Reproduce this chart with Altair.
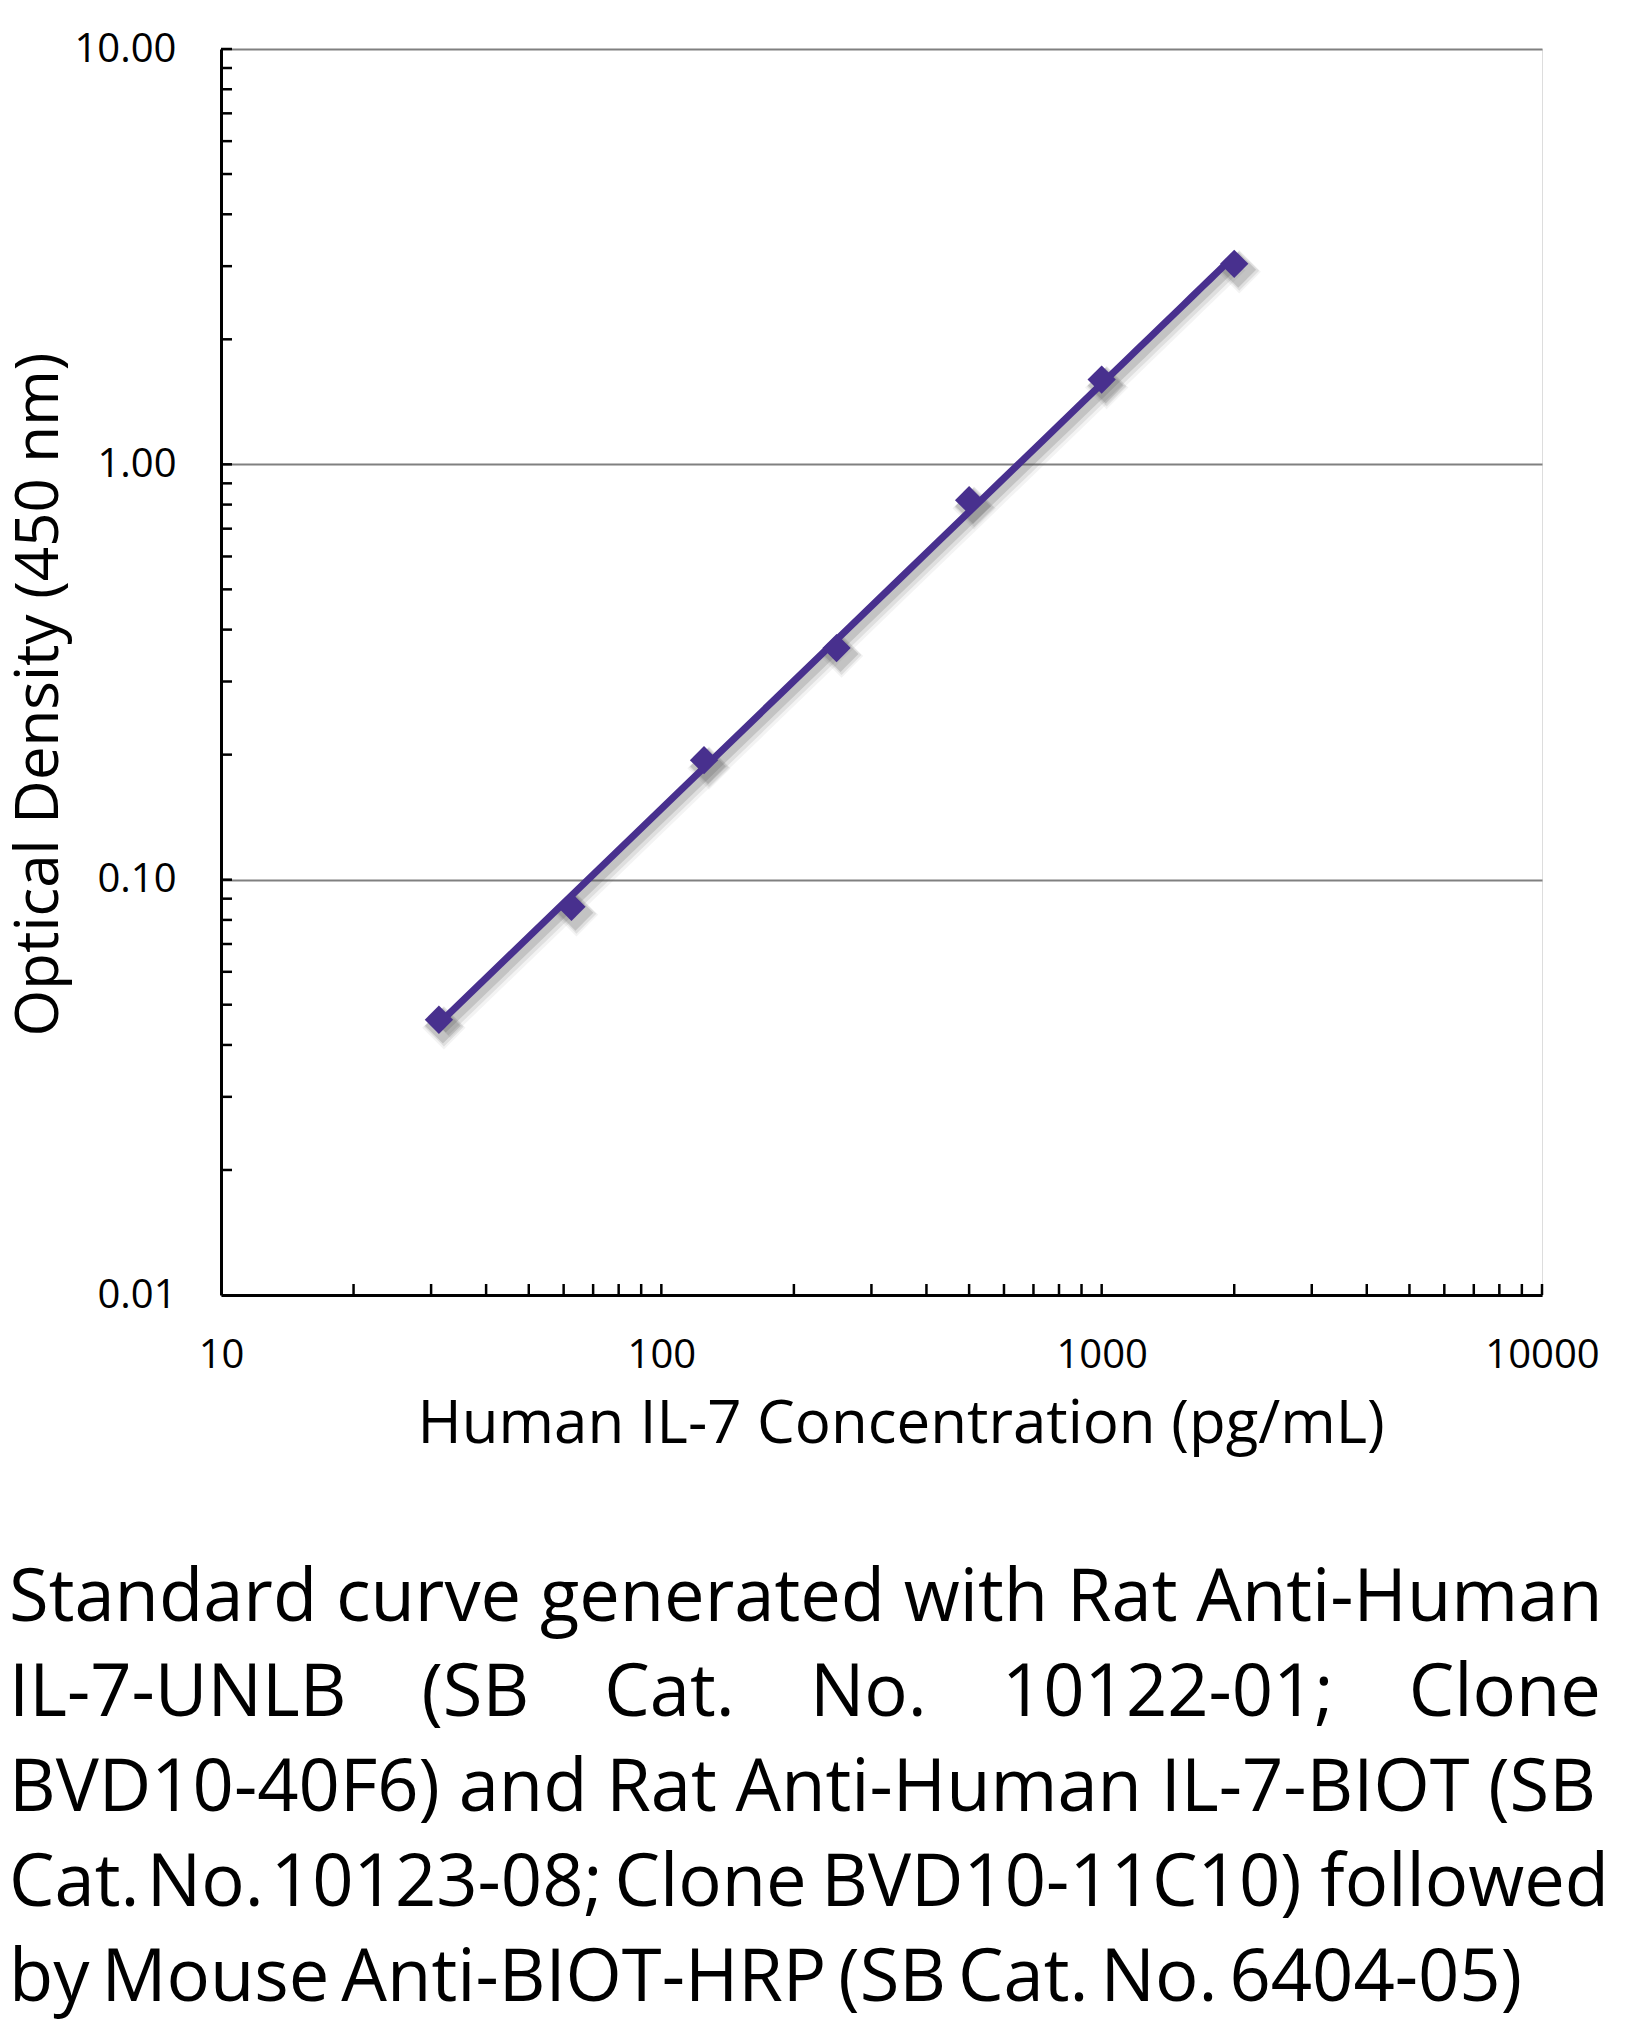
import altair as alt
import pandas as pd

# ---- data ----
concentration = [31.25, 62.5, 125, 250, 500, 1000, 2000]
optical_density = [0.046, 0.086, 0.194, 0.361, 0.82, 1.60, 3.04]

x_label_values = [10, 100, 1000, 10000]
y_label_values = [0.01, 0.1, 1, 10]
x_minor_ticks = [20, 30, 40, 50, 60, 70, 80, 90, 100,
                 200, 300, 400, 500, 600, 700, 800, 900, 1000,
                 2000, 3000, 4000, 5000, 6000, 7000, 8000, 9000, 10000]
y_minor_ticks = [0.02, 0.03, 0.04, 0.05, 0.06, 0.07, 0.08, 0.09, 0.1,
                 0.2, 0.3, 0.4, 0.5, 0.6, 0.7, 0.8, 0.9, 1,
                 2, 3, 4, 5, 6, 7, 8, 9, 10]

NB = "\u00a0"
TH = "\u2009"   # thin space
HR = "\u200a"   # hair space
caption_lines = [
    "Standard curve generated with Rat Anti-Human",
    ("IL-7-UNLB" + NB * 4 + "(SB" + NB * 4 + "Cat." + NB * 4 + "No." + NB * 4
     + "10122-01;" + NB * 4 + "Clone"),
    "BVD10-40F6) and Rat Anti-Human IL-7-BIOT (SB",
    "Cat." + HR + "No." + HR + "10123-08;" + TH + "Clone" + HR + HR + "BVD10-11C10) followed",
    "by" + TH + "Mouse" + TH + "Anti-BIOT-HRP" + TH + "(SB" + TH + "Cat." + TH + "No." + TH + "6404-05)",
]

W, H = 1321, 1246
FONT = "Open Sans"
PURPLE = "#48308e"

df = pd.DataFrame({"conc": concentration, "od": optical_density})
xt = pd.DataFrame({"conc": x_minor_ticks})
yt = pd.DataFrame({"od": y_minor_ticks})

xscale = alt.Scale(type="log", domain=[10, 10000], nice=False)
yscale = alt.Scale(type="log", domain=[0.01, 10], nice=False)

x_axis = alt.Axis(
    values=x_label_values, format="d", grid=False, ticks=False, tickSize=0,
    domainColor="black", domainWidth=3, labelFont=FONT, labelFontSize=40,
    labelColor="black", labelPadding=40, labelFlush=False,
    title="Human IL-7 Concentration (pg/mL)", titleFont=FONT, titleFontSize=60,
    titleFontWeight="normal", titleColor="black", titleAlign="left",
    titleBaseline="alphabetic", titleX=196, titleY=147,
)
y_axis = alt.Axis(
    values=y_label_values, format=".2f", grid=True, gridColor="#808080",
    gridWidth=2, ticks=False, tickSize=0, domainColor="black", domainWidth=3,
    labelFont=FONT, labelFontSize=40, labelColor="black", labelPadding=45,
    labelFlush=False, labelBaseline="middle",
    title="Optical Density (450 nm)", titleFont=FONT, titleFontSize=60,
    titleFontWeight="normal", titleColor="black", titleAlign="center",
    titleBaseline="alphabetic", titleAngle=270, titleX=-164, titleY=645,
)

X = alt.X("conc:Q", scale=xscale, axis=x_axis)
Y = alt.Y("od:Q", scale=yscale, axis=y_axis)

base = alt.Chart(df)

shadows = []
for w, op, dx, dy in [(18, 0.07, 5, 8), (13, 0.12, 5, 7), (8, 0.2, 4, 6)]:
    shadows.append(
        base.transform_regression("conc", "od", method="pow")
        .mark_line(color="#555555", strokeWidth=w, opacity=op, xOffset=dx, yOffset=dy)
        .encode(x=X, y=Y)
    )
    shadows.append(
        base.mark_point(shape="diamond", filled=True, size=800 + w * 60, color="#555555",
                        opacity=op, xOffset=dx, yOffset=dy)
        .encode(x=X, y=Y)
    )

fit_line = (
    base.transform_regression("conc", "od", method="pow")
    .mark_line(color=PURPLE, strokeWidth=7)
    .encode(x=X, y=Y)
)
markers = base.mark_point(shape="diamond", filled=True, size=800, color=PURPLE, opacity=1).encode(x=X, y=Y)

x_ticks = alt.Chart(xt).mark_rule(color="black", strokeWidth=2.5).encode(
    x=X,
    y=alt.value(H),
    y2=alt.value(H - 11),
)
y_ticks = alt.Chart(yt).mark_rule(color="black", strokeWidth=2.5).encode(
    y=Y,
    x=alt.value(0),
    x2=alt.value(11),
)

chart = alt.layer(x_ticks, y_ticks, *shadows, fit_line, markers).properties(
    width=W,
    height=H,
    autosize=alt.AutoSizeParams(type="none"),
    padding={"left": 213, "top": 41, "right": 96, "bottom": 740},
    title=alt.TitleParams(
        text=caption_lines,
        orient="bottom",
        anchor="start",
        frame="group",
        dx=-212,
        offset=110,
        font=FONT,
        fontSize=72.3,
        fontWeight="normal",
        color="black",
        lineHeight=95,
        baseline="top",
    ),
).configure_view(strokeWidth=0).configure(background="white")

chart.save("out.html", embed_options={"renderer": "svg", "actions": False})
